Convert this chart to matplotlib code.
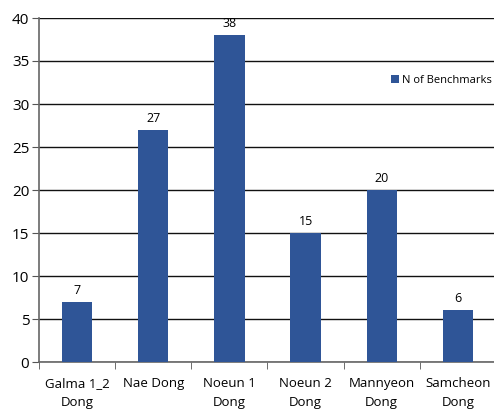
import matplotlib
matplotlib.use("Agg")
from matplotlib import pyplot as plt
import numpy

districts = ["Galma 1_2\nDong", "Nae Dong", "Noeun 1\nDong", "Noeun 2\nDong",
             "Mannyeon\nDong", "Samcheon\nDong"]
benchmarks = [7, 27, 38, 15, 20, 6]
yticks = [0, 5, 10, 15, 20, 25, 30, 35, 40]

plt.rcParams["font.family"] = ["Open Sans", "DejaVu Sans"]
bar_color = "#2f5597"

fig = plt.figure(figsize=(4.94, 4.11), dpi=100)
ax = fig.add_axes([39 / 494, 1 - 362 / 411, 457 / 494, 344 / 411])

x = numpy.arange(len(districts))
bars = ax.bar(x, benchmarks, width=0.4, color=bar_color, zorder=3,
              label="N of Benchmarks")
for xi, v in zip(x, benchmarks):
    ax.text(xi, v + 0.6, str(v), ha="center", va="bottom", fontsize=9)

ax.set_xlim(-0.5, len(districts) - 0.5)
ax.set_ylim(0, 40)
ax.set_yticks(yticks)
ax.set_yticklabels([str(t) for t in yticks], fontsize=11)
ax.yaxis.grid(True, color="#111111", linewidth=1.0, zorder=0)

ax.set_xticks(x)
ax.set_xticklabels(districts, fontsize=9.5, linespacing=1.55)
ax.set_xticks(numpy.arange(-0.5, len(districts) - 0.4, 1), minor=True)
ax.tick_params(axis="x", which="major", length=0, pad=11)
ax.tick_params(axis="x", which="minor", length=5, color="#555555")
ax.tick_params(axis="y", length=5, color="#555555", pad=2)

for s in ["top", "right"]:
    ax.spines[s].set_visible(False)
ax.spines["left"].set_color("#666666")
ax.spines["bottom"].set_color("#666666")
ax.spines["left"].set_linewidth(1.2)
ax.spines["bottom"].set_linewidth(1.2)

ax.legend(loc="upper left", bbox_to_anchor=(391 / 494, 1 - 75 / 411),
          bbox_transform=fig.transFigure, frameon=False, fontsize=8,
          handlelength=0.7, handleheight=0.7, handletextpad=0.3,
          borderpad=0, borderaxespad=0)

fig.savefig("out.png", dpi=100)
